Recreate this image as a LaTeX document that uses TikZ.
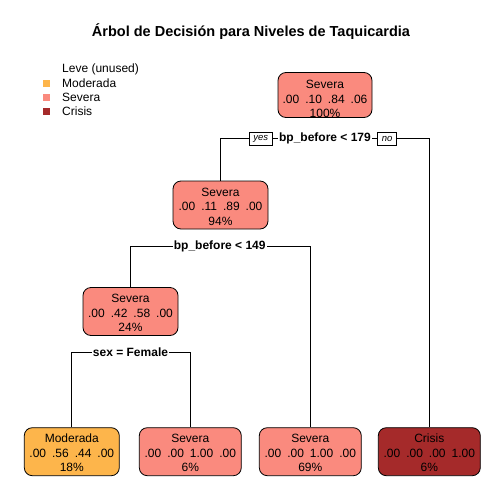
\documentclass[tikz,border=0pt]{standalone}
\usepackage{fontspec}
\setmainfont{Liberation Sans}
\usetikzlibrary{positioning,calc,shapes,backgrounds,arrows.meta}
\definecolor{moderadacol}{HTML}{FDB54B}
\definecolor{severacol}{HTML}{FA8A7E}
\definecolor{crisiscol}{HTML}{A52A2A}
\tikzset{
    dectree/.style={
        x=1pt, y=-1pt,
        font=\fontsize{12}{14.5}\selectfont,
        % Stile per i nodi di classe (rettangolo arrotondato)
        classbox/.style={draw, rounded corners=8pt,
                         minimum width=95pt, minimum height=48pt,
                         inner sep=1pt, line width=0.8pt},
        % Stile per il testo dentro i nodi
        classtext/.style={align=center, inner sep=0pt, yshift=-1.5pt},
        % Stile per le condizioni di split
        splitlabel/.style={fill=white, inner sep=1pt,
                           font=\fontsize{12}{14}\selectfont\bfseries},
        % Stile per le etichette yes/no
        yesno/.style={draw, fill=white, inner sep=0pt, line width=0.8pt,
                      minimum height=13pt,
                      font=\fontsize{9.5}{10}\selectfont\itshape},
        % Stile per la legenda
        legsq/.style={minimum size=7pt, inner sep=0pt},
        legtext/.style={anchor=west, inner sep=0pt},
        branch/.style={line width=0.8pt}
    }
}

\begin{document}
\begin{tikzpicture}[dectree]
    \useasboundingbox (0,0) rectangle (504,504);
    \node[font=\fontsize{14.5}{16}\selectfont\bfseries] (title) at (251,32)
        {Árbol de Decisión para Niveles de Taquicardia};

    % legenda
    \node[legtext] (tleve) at (62,69) {Leve (unused)};
    \node[legsq, fill=moderadacol] (kmod) at (46.5,83) {};
    \node[legtext] (tmod) at (62,83) {Moderada};
    \node[legsq, fill=severacol] (ksev) at (46.5,97) {};
    \node[legtext] (tsev) at (62,97) {Severa};
    \node[legsq, fill=crisiscol] (kcri) at (46.5,111) {};
    \node[legtext] (tcri) at (62,111) {Crisis};

    % nodi
    \node[classbox, fill=severacol, minimum width=94pt, minimum height=45pt,
          label={[classtext, yshift=-2.5pt]center:{Severa\\.00\enspace.10\enspace.84\enspace.06\\100\%}}]
          (root) at (325,95) {};
    \node[classbox, fill=severacol,
          label={[classtext]center:{Severa\\.00\enspace.11\enspace.89\enspace.00\\94\%}}]
          (nodeA) at (220.5,205) {};
    \node[classbox, fill=severacol,
          label={[classtext]center:{Severa\\.00\enspace.42\enspace.58\enspace.00\\24\%}}]
          (nodeB) at (130.5,311.5) {};
    \node[classbox, fill=moderadacol,
          label={[classtext]center:{Moderada\\.00\enspace.56\enspace.44\enspace.00\\18\%}}]
          (leafA) at (71.8,451.7) {};
    \node[classbox, fill=severacol, minimum width=102pt,
          label={[classtext]center:{Severa\\.00\enspace.00\enspace1.00\enspace.00\\6\%}}]
          (leafB) at (190.3,451.7) {};
    \node[classbox, fill=severacol, minimum width=102pt,
          label={[classtext]center:{Severa\\.00\enspace.00\enspace1.00\enspace.00\\69\%}}]
          (leafC) at (310.3,451.7) {};
    \node[classbox, fill=crisiscol, minimum width=102pt,
          label={[classtext]center:{Crisis\\.00\enspace.00\enspace.00\enspace1.00\\6\%}}]
          (leafD) at (429.3,451.7) {};

    % split
    \node[splitlabel] (splitA) at (325,138) {bp\_before < 179};
    \node[yesno, minimum width=22.7pt] (yes) at (260.7,139.2) {yes};
    \node[yesno, minimum width=19pt] (no) at (387.2,139.2) {no};
    \node[splitlabel] (splitB) at (219.7,246) {bp\_before < 149};
    \node[splitlabel] (splitC) at (130.5,352.7) {sex = Female};

    \begin{scope}[on background layer]
        \fill[white] (0,0) rectangle (504,504);
        \draw[branch] (nodeA.north) |- (splitA.west);
        \draw[branch] (splitA.east) -| (leafD.north);
        \draw[branch] (nodeB.north) |- (splitB.west);
        \draw[branch] (splitB.east) -| (leafC.north);
        \draw[branch] (leafA.north) |- (splitC.west);
        \draw[branch] (splitC.east) -| (leafB.north);
    \end{scope}
\end{tikzpicture}
\end{document}
